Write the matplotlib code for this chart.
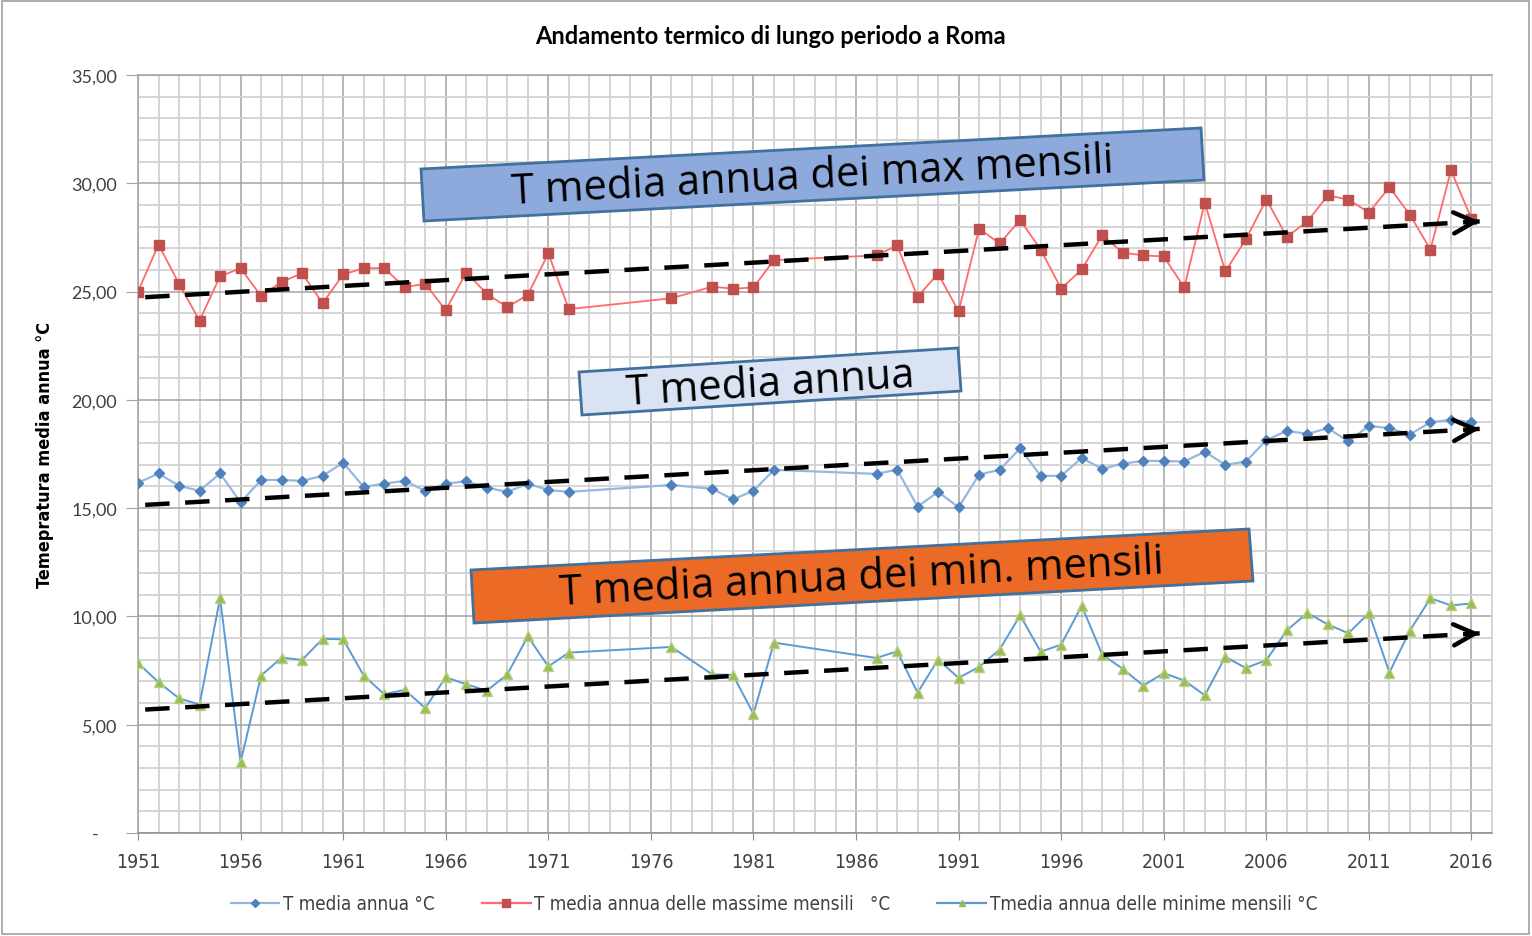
import matplotlib
matplotlib.use("Agg")
import matplotlib.pyplot as plt
from matplotlib.patches import Polygon, Rectangle
from matplotlib.lines import Line2D
from matplotlib.ticker import MultipleLocator, FixedLocator

# ---------------- data ----------------
years = [1951, 1952, 1953, 1954, 1955, 1956, 1957, 1958, 1959, 1960, 1961,
         1962, 1963, 1964, 1965, 1966, 1967, 1968, 1969, 1970, 1971, 1972,
         1977,
         1979, 1980, 1981, 1982,
         1987, 1988, 1989, 1990, 1991, 1992, 1993, 1994, 1995, 1996, 1997,
         1998, 1999, 2000, 2001, 2002, 2003, 2004, 2005, 2006, 2007, 2008,
         2009, 2010, 2011, 2012, 2013, 2014, 2015, 2016]

t_max = [25.00, 27.17, 25.36, 23.66, 25.70, 26.08, 24.79, 25.45, 25.84, 24.46, 25.79,
         26.08, 26.08, 25.20, 25.36, 24.14, 25.88, 24.90, 24.28, 24.85, 26.76, 24.19,
         24.69,
         25.23, 25.13, 25.19, 26.45,
         26.67, 27.13, 24.76, 25.83, 24.09, 27.90, 27.22, 28.31, 26.94, 25.13, 26.02,
         27.60, 26.80, 26.67, 26.62, 25.19, 29.11, 25.93, 27.41, 29.25, 27.53, 28.24,
         29.44, 29.25, 28.65, 29.82, 28.54, 26.94, 30.60, 28.36]

t_mean = [16.17, 16.60, 16.03, 15.80, 16.60, 15.27, 16.30, 16.30, 16.26, 16.49, 17.10,
          15.98, 16.13, 16.26, 15.80, 16.13, 16.24, 15.95, 15.75, 16.13, 15.84, 15.75,
          16.07,
          15.89, 15.40, 15.80, 16.77,
          16.58, 16.78, 15.07, 15.75, 15.04, 16.55, 16.77, 17.76, 16.49, 16.49, 17.32,
          16.81, 17.06, 17.18, 17.18, 17.15, 17.61, 17.00, 17.15, 18.14, 18.57, 18.43,
          18.69, 18.08, 18.80, 18.69, 18.40, 18.97, 19.08, 18.97]

t_min = [7.85, 6.96, 6.22, 5.93, 10.85, 3.27, 7.27, 8.10, 7.99, 8.97, 8.94,
         7.27, 6.41, 6.61, 5.77, 7.19, 6.87, 6.57, 7.32, 9.08, 7.69, 8.33,
         8.59,
         7.32, 7.30, 5.50, 8.79,
         8.08, 8.39, 6.48, 8.01, 7.16, 7.67, 8.47, 10.05, 8.37, 8.70, 10.49,
         8.24, 7.58, 6.81, 7.38, 7.04, 6.36, 8.13, 7.62, 7.98, 9.36, 10.16,
         9.63, 9.22, 10.16, 7.41, 9.35, 10.84, 10.51, 10.60]

# hand-drawn trend arrows (start year, start value, end year, end value)
trend_years = [1951.35, 2016.4]
trend_max = [24.74, 28.24]
trend_mean = [15.15, 18.66]
trend_min = [5.70, 9.22]

y_ticks = [0, 5, 10, 15, 20, 25, 30, 35]
x_ticks = [1951, 1956, 1961, 1966, 1971, 1976, 1981, 1986, 1991, 1996, 2001, 2006, 2011, 2016]

title = "Andamento termico di lungo periodo a Roma"
ylabel = "Temepratura media annua °C"
labels = ["T media annua °C", "T media annua delle massime mensili   °C",
          "Tmedia annua delle minime mensili °C"]
box_texts = ["T media annua dei max mensili", "T media annua", "T media annua dei min. mensili"]

# ---------------- figure ----------------
W, H = 1532, 937
fig = plt.figure(figsize=(W / 100, H / 100), dpi=100)
fig.patch.set_facecolor("white")

def fx(px):
    return px / W

def fy(py):
    return 1 - py / H

ax = fig.add_axes([fx(138), fy(834), fx(1492) - fx(138), fy(76) - fy(834)])

ax.set_xlim(1951, 2017)
ax.set_ylim(0, 35)
ax.xaxis.set_major_locator(FixedLocator(x_ticks))
ax.xaxis.set_minor_locator(MultipleLocator(1))
ax.yaxis.set_major_locator(FixedLocator(y_ticks))
ax.yaxis.set_minor_locator(MultipleLocator(1))

ax.grid(which="minor", color="#d2d2d2", linewidth=1.3, zorder=0)
ax.grid(which="major", color="#a3a3a3", linewidth=1.1, zorder=0)
ax.set_axisbelow(True)

reg = ["Lato", "DejaVu Sans"]
cond = ["DejaVu Sans"]

ax.set_yticklabels(["-    " if v == 0 else f"{v:.2f}".replace(".", ",") for v in y_ticks],
                   fontsize=13, family=reg, color="#404040")
ax.set_xticklabels([str(v) for v in x_ticks], fontsize=14, family=cond,
                   fontstretch="condensed", color="#404040")
ax.tick_params(axis="y", which="major", length=9, color="#a3a3a3", pad=6)
ax.tick_params(axis="y", which="minor", length=0)
ax.tick_params(axis="x", which="major", length=5, color="#8c8c8c", pad=9)
ax.tick_params(axis="x", which="minor", length=0)

for s in ["left", "top"]:
    ax.spines[s].set_color("#a3a3a3")
ax.spines["right"].set_color("#d2d2d2")
ax.spines["bottom"].set_color("#8c8c8c")
for s in ax.spines.values():
    s.set_linewidth(1.1)

# series
ax.plot(years, t_max, color="#ff6a6a", lw=1.3, marker="s", ms=6.5,
        mfc="#c0504d", mec="#c0504d", zorder=3)
ax.plot(years, t_mean, color="#95b7e0", lw=1.6, marker="D", ms=5.5,
        mfc="#4f81bd", mec="#4f81bd", zorder=3)
ax.plot(years, t_min, color="#5b9bd5", lw=1.4, marker="^", ms=6.5,
        mfc="#9bbb59", mec="#b5cf7a", zorder=3)

# trend arrows
for tv in (trend_max, trend_mean, trend_min):
    ax.plot(trend_years, tv, color="black", lw=3.2, ls=(0, (5.5, 3.5)), zorder=4,
            solid_capstyle="butt", dash_capstyle="butt")
    ax.annotate("", xy=(trend_years[1], tv[1]),
                xytext=(trend_years[1] - 0.6, tv[1] - 0.6 * (tv[1] - tv[0]) / (trend_years[1] - trend_years[0])),
                arrowprops=dict(arrowstyle="->", lw=3.2, color="black", mutation_scale=38,
                                shrinkA=0, shrinkB=0), zorder=5)

# labels
fig.text(fx(770), fy(36), title, ha="center", va="center", fontsize=17,
         fontweight="bold", family=reg, color="black")
fig.text(fx(45), fy(455), ylabel, ha="center", va="center", rotation=90,
         fontsize=13, fontweight="bold", family=cond, fontstretch="condensed", color="black")

# rotated text boxes (figure pixel corners)
boxes = [
    dict(pts=[(424, 222), (421, 170), (1201, 129), (1204, 181)], fc="#8eaadc", text=box_texts[0],
         c=(812.5, 177.5), ang=3.0),
    dict(pts=[(582, 416), (579, 373), (958, 349), (961, 392)], fc="#dae3f3", text=box_texts[1],
         c=(770, 384.5), ang=3.6),
    dict(pts=[(474, 624), (471, 571), (1249, 530), (1253, 582)], fc="#ea6a26", text=box_texts[2],
         c=(862, 578.5), ang=3.0),
]
for b in boxes:
    poly = Polygon([(fx(x), fy(y)) for x, y in b["pts"]], closed=True,
                   transform=fig.transFigure, facecolor=b["fc"], edgecolor="#41719c",
                   linewidth=2.0, zorder=6)
    fig.add_artist(poly)
    fig.text(fx(b["c"][0]), fy(b["c"][1]), b["text"], ha="center", va="center",
             rotation=b["ang"], rotation_mode="anchor", fontsize=30, family=["Open Sans", "DejaVu Sans"],
             color="black", zorder=7)

# legend
handles = [
    Line2D([], [], color="#95b7e0", lw=1.6, marker="D", ms=4.5, mfc="#4f81bd", mec="#4f81bd"),
    Line2D([], [], color="#ff6a6a", lw=1.6, marker="s", ms=6, mfc="#c0504d", mec="#c0504d"),
    Line2D([], [], color="#5b9bd5", lw=1.6, marker="^", ms=5, mfc="#9bbb59", mec="#9bbb59"),
]
fig.legend(handles, labels, loc="center", bbox_to_anchor=(fx(774), fy(905)), ncol=3,
           frameon=False, prop=dict(family=cond, size=13.5, stretch="condensed"), handlelength=2.6,
           handletextpad=0.2, columnspacing=2.5, labelcolor="#404040")

# outer chart border
fig.add_artist(Rectangle((fx(2), fy(935)), fx(1529) - fx(2), fy(2) - fy(935),
                         transform=fig.transFigure, fill=False, edgecolor="#a0a0a0", lw=1.2))

fig.savefig("out.png", dpi=100)
